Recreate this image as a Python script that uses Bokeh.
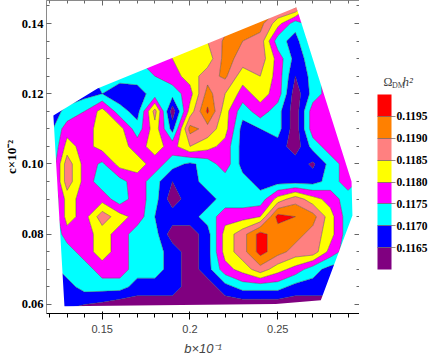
import numpy as np
from bokeh.plotting import figure
from bokeh.layouts import row
from bokeh.models import (ColorBar, LinearColorMapper, FixedTicker, PrintfTickFormatter,
                          SingleIntervalTicker, LinearAxis, Label, Range1d,
                          CustomJSTickFormatter)
from bokeh.embed import file_html
from bokeh.resources import INLINE

# ---- data -----------------------------------------------------------------
b_vals = [0.12, 0.13, 0.14, 0.15, 0.16, 0.17, 0.18, 0.19, 0.20, 0.21,
          0.22, 0.23, 0.24, 0.25, 0.26, 0.27, 0.28, 0.29, 0.30]
c_vals = [0.145, 0.140, 0.135, 0.130, 0.125, 0.120, 0.115, 0.110, 0.105, 0.100,
          0.095, 0.090, 0.085, 0.080, 0.075, 0.070, 0.065, 0.060, 0.055]

# Omega_DM h^2 on the (b, c) grid, one list per c row (top to bottom)
row_c0145 = [0.1168, 0.1168, 0.1172, 0.1172, 0.1178, 0.1178, 0.1182, 0.1182, 0.1188, 0.1188, 0.1188, 0.1192, 0.1192, 0.1192, 0.1192, 0.1178, 0.1178, 0.1178, 0.1178]
row_c0140 = [0.1168, 0.1168, 0.1172, 0.1172, 0.1178, 0.1178, 0.1182, 0.1182, 0.1182, 0.1188, 0.1188, 0.1192, 0.1192, 0.1182, 0.1172, 0.1178, 0.1178, 0.1178, 0.1178]
row_c0135 = [0.1168, 0.1168, 0.1172, 0.1172, 0.1178, 0.1178, 0.1178, 0.1182, 0.1182, 0.1185, 0.1191, 0.1190, 0.1188, 0.1172, 0.1168, 0.1178, 0.1178, 0.1178, 0.1178]
row_c0130 = [0.1168, 0.1168, 0.1168, 0.1172, 0.1172, 0.1175, 0.1178, 0.1180, 0.1182, 0.1182, 0.1192, 0.1188, 0.1188, 0.1178, 0.1168, 0.1172, 0.1178, 0.1178, 0.1178]
row_c0125 = [0.1168, 0.1168, 0.1168, 0.1172, 0.1172, 0.1172, 0.1175, 0.1178, 0.1182, 0.1188, 0.1191, 0.1182, 0.1185, 0.1178, 0.1165, 0.1172, 0.1178, 0.1178, 0.1178]
row_c0120 = [0.1168, 0.1168, 0.1168, 0.1170, 0.1167, 0.1168, 0.1172, 0.1172, 0.1178, 0.1192, 0.1185, 0.1178, 0.1182, 0.1178, 0.1162, 0.1172, 0.1178, 0.1178, 0.1178]
row_c0115 = [0.1168, 0.1171, 0.1175, 0.1182, 0.1172, 0.1168, 0.1187, 0.1162, 0.1182, 0.1196, 0.1182, 0.1172, 0.1178, 0.1172, 0.1162, 0.1178, 0.1178, 0.1178, 0.1178]
row_c0110 = [0.1168, 0.1178, 0.1178, 0.1182, 0.1182, 0.1172, 0.1183, 0.1168, 0.1192, 0.1188, 0.1182, 0.1168, 0.1170, 0.1172, 0.1162, 0.1178, 0.1178, 0.1178, 0.1178]
row_c0105 = [0.1168, 0.1182, 0.1178, 0.1182, 0.1182, 0.1178, 0.1182, 0.1178, 0.1185, 0.1182, 0.1178, 0.1168, 0.1168, 0.1168, 0.1162, 0.1172, 0.1178, 0.1178, 0.1178]
row_c0100 = [0.1168, 0.1188, 0.1178, 0.1174, 0.1182, 0.1182, 0.1178, 0.1172, 0.1169, 0.1172, 0.1178, 0.1168, 0.1168, 0.1168, 0.1168, 0.1164, 0.1172, 0.1178, 0.1178]
row_c0095 = [0.1168, 0.1188, 0.1178, 0.1172, 0.1173, 0.1178, 0.1172, 0.1165, 0.1168, 0.1172, 0.1172, 0.1172, 0.1168, 0.1168, 0.1168, 0.1168, 0.1172, 0.1178, 0.1172]
row_c0090 = [0.1168, 0.1182, 0.1178, 0.1178, 0.1172, 0.1178, 0.1172, 0.1162, 0.1168, 0.1168, 0.1172, 0.1172, 0.1172, 0.1182, 0.1188, 0.1182, 0.1178, 0.1172, 0.1172]
row_c0085 = [0.1168, 0.1182, 0.1178, 0.1188, 0.1182, 0.1178, 0.1170, 0.1168, 0.1168, 0.1172, 0.1178, 0.1178, 0.1180, 0.1197, 0.1195, 0.1192, 0.1182, 0.1172, 0.1172]
row_c0080 = [0.1168, 0.1178, 0.1178, 0.1182, 0.1178, 0.1172, 0.1172, 0.1162, 0.1162, 0.1168, 0.1182, 0.1188, 0.1197, 0.1192, 0.1192, 0.1188, 0.1182, 0.1172, 0.1172]
row_c0075 = [0.1168, 0.1172, 0.1178, 0.1182, 0.1178, 0.1172, 0.1172, 0.1168, 0.1162, 0.1168, 0.1182, 0.1188, 0.1197, 0.1192, 0.1188, 0.1188, 0.1178, 0.1172, 0.1172]
row_c0070 = [0.1168, 0.1172, 0.1172, 0.1178, 0.1178, 0.1172, 0.1172, 0.1168, 0.1162, 0.1168, 0.1178, 0.1182, 0.1188, 0.1182, 0.1178, 0.1172, 0.1168, 0.1168, 0.1168]
row_c0065 = [0.1168, 0.1168, 0.1172, 0.1172, 0.1172, 0.1168, 0.1168, 0.1168, 0.1162, 0.1162, 0.1168, 0.1172, 0.1172, 0.1172, 0.1168, 0.1168, 0.1168, 0.1168, 0.1168]
row_c0060 = [0.1162, 0.1166, 0.1165, 0.1164, 0.1162, 0.1162, 0.1162, 0.1162, 0.1162, 0.1162, 0.1162, 0.1162, 0.1162, 0.1162, 0.1162, 0.1162, 0.1162, 0.1162, 0.1162]
row_c0055 = [0.1162, 0.1162, 0.1162, 0.1162, 0.1162, 0.1162, 0.1162, 0.1162, 0.1162, 0.1162, 0.1162, 0.1162, 0.1162, 0.1162, 0.1162, 0.1162, 0.1162, 0.1162, 0.1162]

rows_top_to_bottom = [row_c0145, row_c0140, row_c0135, row_c0130, row_c0125, row_c0120,
                      row_c0115, row_c0110, row_c0105, row_c0100, row_c0095, row_c0090,
                      row_c0085, row_c0080, row_c0075, row_c0070, row_c0065, row_c0060,
                      row_c0055]

# outline (convex hull) of the sampled parameter region
hull_b = [0.1222, 0.1473, 0.2606, 0.2920, 0.2925, 0.2745, 0.2488, 0.1285]
hull_c = [0.1138, 0.1215, 0.1446, 0.0950, 0.0853, 0.0612, 0.0601, 0.0595]

levels = [0.1150, 0.1165, 0.1170, 0.1175, 0.1180, 0.1185, 0.1190, 0.1195, 0.1210]
band_colors = ["#800080", "#0000FF", "#00FFFF", "#FF00FF",
               "#FFFF00", "#FF8080", "#FF8000", "#FF0000"]
bar_ticks = [0.1165, 0.1170, 0.1175, 0.1180, 0.1185, 0.1190, 0.1195]

# ---- main figure ------------------------------------------------------------
FONT = "Liberation Serif"
p = figure(frame_width=313, frame_height=313,
           x_range=Range1d(0.11828, 0.29653), y_range=Range1d(0.05743, 0.14655),
           output_backend="svg", toolbar_location=None,
           min_border_left=38, min_border_right=0, min_border_top=0, min_border_bottom=40,
           x_axis_label="b×10⁻¹", y_axis_label="c×10⁻²")
p.xgrid.visible = False
p.ygrid.visible = False
p.outline_line_color = "#8a8a8a"
p.background_fill_color = "white"

z = np.array(rows_top_to_bottom[::-1])
c_asc = c_vals[::-1]
p.contour(b_vals, c_asc, z, levels, fill_color=band_colors,
          line_color="#3a3a3a", line_alpha=0.6, line_width=0.7)

# white out everything outside the sampled region
outer_b = [0.10, 0.32, 0.32, 0.10]
outer_c = [0.04, 0.04, 0.16, 0.16]
p.multi_polygons(xs=[[[outer_b, hull_b]]], ys=[[[outer_c, hull_c]]],
                 fill_color="white", line_color=None)

# axes: ticks on all four sides, pointing inwards
top_ax = LinearAxis()
right_ax = LinearAxis()
p.add_layout(top_ax, "above")
p.add_layout(right_ax, "right")

xt = SingleIntervalTicker(interval=0.05, num_minor_ticks=5)
yt = SingleIntervalTicker(interval=0.02, num_minor_ticks=4)
for ax in [p.xaxis[0], top_ax]:
    ax.ticker = xt
for ax in [p.yaxis[0], right_ax]:
    ax.ticker = yt

for ax in [p.xaxis[0], p.yaxis[0], top_ax, right_ax]:
    ax.axis_line_color = "#8a8a8a"
    ax.major_tick_line_color = "#666666"
    ax.minor_tick_line_color = "#666666"
    ax.major_tick_in = 5
    ax.major_tick_out = 0
    ax.minor_tick_in = 3
    ax.minor_tick_out = 0
    ax.major_label_text_font = FONT
    ax.major_label_text_font_style = "bold"
    ax.major_label_text_font_size = "12.5px"
    ax.major_label_text_color = "black"
    ax.axis_label_text_font = FONT
    ax.axis_label_text_font_style = "bold"
    ax.axis_label_text_font_size = "13px"
    ax.axis_label_text_color = "black"
    ax.formatter = PrintfTickFormatter(format="%.2f")

for ax in [top_ax, right_ax]:
    ax.formatter = CustomJSTickFormatter(code="return ''")
    ax.major_label_standoff = 0

p.xaxis[0].major_label_standoff = 5
p.xaxis[0].axis_label_standoff = 6
p.yaxis[0].major_label_standoff = 3
p.yaxis[0].axis_label_standoff = 0

# ---- colour-bar panel (same frame height as the main plot) -------------------
W2 = 70
leg = figure(frame_width=W2, frame_height=313, x_range=Range1d(0, W2), y_range=Range1d(0, 313),
             output_backend="svg", toolbar_location=None,
             min_border_left=0, min_border_right=0, min_border_top=0, min_border_bottom=40)
leg.axis.visible = False
leg.grid.visible = False
leg.outline_line_color = None

mapper = LinearColorMapper(palette=band_colors, low=0.1160, high=0.1200)
cb = ColorBar(color_mapper=mapper, ticker=FixedTicker(ticks=bar_ticks),
              formatter=PrintfTickFormatter(format="%.4f"),
              width=14, height=175, location=(18, 44),
              padding=0, margin=0, label_standoff=1,
              major_tick_in=14, major_tick_out=4,
              major_tick_line_color="#7a6a6a", major_tick_line_alpha=0.8,
              bar_line_color=None, border_line_color=None,
              background_fill_color=None, background_fill_alpha=0,
              major_label_text_font=FONT, major_label_text_font_style="bold",
              major_label_text_font_size="11.5px", major_label_text_color="black")
leg.add_layout(cb)

# colour bar title  Omega_DM h^2
leg.add_layout(Label(x=24, y=232, text="Ω", text_font=FONT,
                     text_font_size="12px", text_baseline="alphabetic"))
leg.add_layout(Label(x=32.5, y=228, text="DM", text_font=FONT,
                     text_font_size="8px", text_baseline="alphabetic"))
leg.add_layout(Label(x=43, y=232, text="h²", text_font=FONT,
                     text_font_style="italic", text_font_size="13px",
                     text_baseline="alphabetic"))

layout = row(p, leg)
open("out.html", "w").write(file_html(layout, INLINE))
